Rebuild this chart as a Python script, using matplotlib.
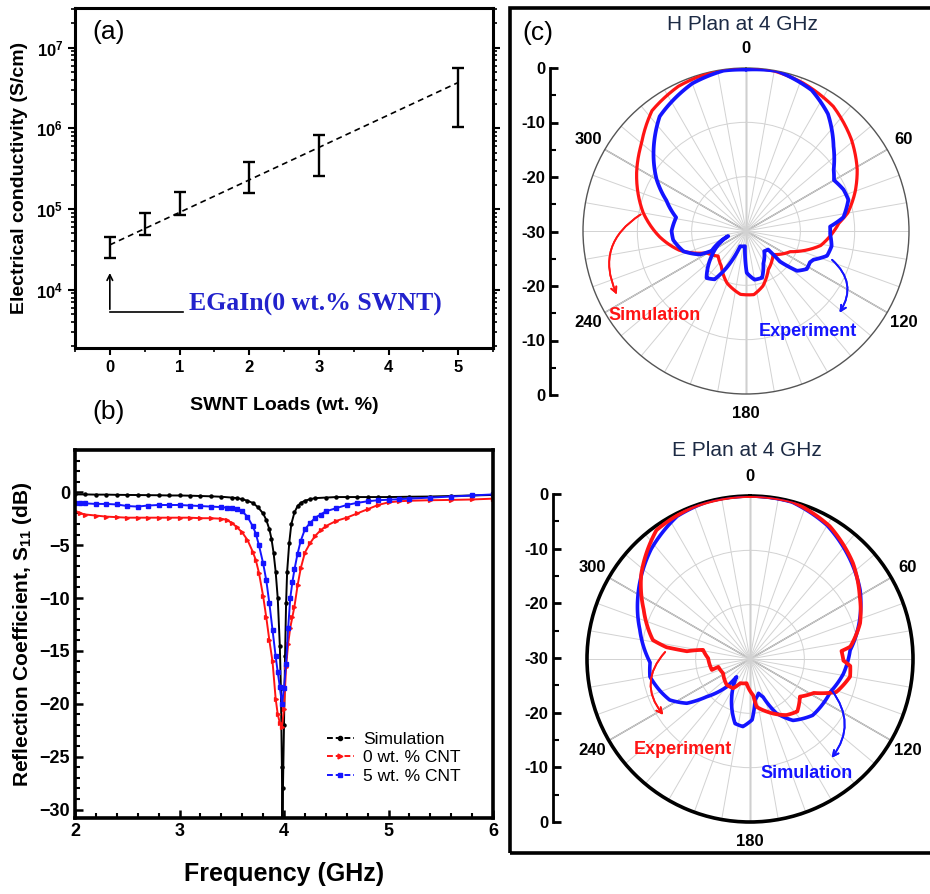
import numpy as np
import matplotlib
matplotlib.use('Agg')
import matplotlib.pyplot as plt
from matplotlib.ticker import MultipleLocator, FixedLocator, FuncFormatter, LogLocator, NullFormatter
from matplotlib.lines import Line2D
from matplotlib.patches import Rectangle

plt.rcParams['font.family'] = ['Liberation Sans', 'DejaVu Sans']
plt.rcParams['mathtext.fontset'] = 'custom'
plt.rcParams['mathtext.rm'] = 'Liberation Sans'
plt.rcParams['mathtext.bf'] = 'Liberation Sans:bold'
plt.rcParams['mathtext.it'] = 'Liberation Sans:italic'

# (a) conductivity vs SWNT load
loads = [0, 0.5, 1, 2, 3, 5]
cond_low = [2.5e4, 4.8e4, 8.4e4, 1.6e5, 2.6e5, 1.05e6]
cond_high = [4.5e4, 9.0e4, 1.65e5, 3.8e5, 8.3e5, 5.6e6]
fit_x = [0, 5]
fit_y = [3.6e4, 3.7e6]

# (b) reflection coefficient
freq_sim = [2.0, 2.1, 2.2, 2.3, 2.4, 2.5, 2.6, 2.7, 2.8, 2.9, 3.0, 3.1, 3.2, 3.3, 3.4, 3.5,
            3.55, 3.6, 3.65, 3.7, 3.75, 3.8, 3.83, 3.86, 3.88, 3.9, 3.92, 3.94, 3.96, 3.97,
            3.98, 3.985, 3.99, 4.0, 4.01, 4.02, 4.03, 4.05, 4.07, 4.1, 4.13, 4.16, 4.2, 4.25,
            4.3, 4.4, 4.5, 4.6, 4.7, 4.8, 4.9, 5.0, 5.2, 5.4, 5.6, 5.8, 6.0]
s11_sim = [-0.2, -0.2, -0.22, -0.22, -0.24, -0.25, -0.26, -0.27, -0.28, -0.3, -0.3, -0.32,
           -0.35, -0.38, -0.42, -0.5, -0.55, -0.65, -0.8, -1.0, -1.4, -2.0, -2.6, -3.5, -4.4,
           -5.7, -7.5, -10.0, -14.5, -18.5, -26.0, -33.0, -28.0, -22.0, -15.5, -10.5, -7.5,
           -4.8, -3.0, -1.9, -1.3, -1.0, -0.8, -0.65, -0.55, -0.5, -0.45, -0.45, -0.45, -0.45,
           -0.45, -0.45, -0.42, -0.4, -0.35, -0.3, -0.25]

freq_meas = [2.0, 2.05, 2.1, 2.2, 2.3, 2.4, 2.5, 2.6, 2.7, 2.8, 2.9, 3.0, 3.1, 3.2, 3.3, 3.4,
             3.45, 3.5, 3.55, 3.6, 3.65, 3.7, 3.73, 3.76, 3.8, 3.83, 3.86, 3.89, 3.92, 3.94,
             3.96, 3.98, 4.0, 4.02, 4.04, 4.06, 4.08, 4.1, 4.13, 4.16, 4.2, 4.25, 4.3, 4.35,
             4.4, 4.5, 4.6, 4.7, 4.8, 4.9, 5.0, 5.1, 5.2, 5.4, 5.6, 5.8, 6.0]
s11_cnt0 = [-1.8, -2.0, -2.1, -2.2, -2.3, -2.35, -2.4, -2.4, -2.4, -2.4, -2.4, -2.4, -2.4,
            -2.45, -2.45, -2.5, -2.6, -2.9, -3.3, -3.8, -4.5, -5.6, -6.4, -7.6, -9.8, -11.8,
            -14.0, -16.0, -19.5, -21.0, -21.8, -22.2, -20.5, -16.5, -14.3, -12.8, -11.8, -10.8,
            -8.8, -7.2, -5.7, -4.8, -4.1, -3.6, -3.2, -2.7, -2.4, -2.0, -1.6, -1.2, -0.95,
            -0.85, -0.8, -0.75, -0.72, -0.68, -0.6]
s11_cnt5 = [-1.0, -1.02, -1.05, -1.1, -1.1, -1.15, -1.3, -1.35, -1.25, -1.2, -1.2, -1.2, -1.25,
            -1.3, -1.35, -1.4, -1.45, -1.5, -1.55, -1.8, -2.3, -3.2, -3.9, -5.0, -6.7, -8.3,
            -10.5, -13.0, -15.5, -17.0, -18.4, -20.0, -18.5, -16.2, -12.8, -10.0, -8.5, -7.3,
            -5.8, -4.6, -3.5, -2.9, -2.4, -2.1, -1.8, -1.5, -1.2, -1.0, -0.85, -0.75, -0.7,
            -0.65, -0.6, -0.5, -0.4, -0.3, -0.2]

# (c) radiation patterns, angle in degrees, gain in dB
h_sim_deg = [0, 10, 21, 35, 49, 61, 70, 80, 85, 91, 101, 115, 131, 150, 163, 173, 185, 200,
             215, 228, 241, 254, 266, 280, 298, 310, 322, 335, 348, 360]
h_sim_db = [0, -0.1, -0.8, -2.0, -4.3, -6.6, -8.6, -11.0, -12.8, -14.0, -16.0, -21.0, -23.4,
            -21.8, -19.4, -18.2, -18.3, -19.8, -22.1, -23.1, -21.7, -17.2, -14.1, -10.8, -7.2,
            -4.9, -1.9, -0.6, -0.1, 0]
h_exp_deg = [0, 11, 25, 35, 46, 55, 60, 67, 73, 82, 87, 92, 100, 107, 113, 116, 122, 128, 132,
             130, 138, 152, 161, 170, 179, 184, 201, 208, 213, 220, 234, 254, 240, 243, 252,
             263, 270, 281, 291, 300, 309, 323, 340, 352, 360]
h_exp_db = [-0.3, 0, -1.4, -3.7, -7.6, -10.3, -11.3, -10.5, -10.3, -11.9, -14.5, -14.5, -14.0,
            -14.4, -16.5, -16.9, -16.8, -18.1, -21.6, -24.7, -25.0, -23.2, -20.9, -20.9, -22.3,
            -27.2, -27.0, -22.3, -19.4, -18.7, -22.2, -26.6, -22.7, -20.5, -17.9, -16.5, -16.3,
            -16.9, -14.3, -11.0, -8.1, -3.6, -1.1, -0.2, -0.3]

e_exp_deg = [0, 15, 31, 47, 60, 72, 83, 85, 91, 94, 100, 111, 118, 127, 138, 147, 162, 172,
             175, 188, 202, 210, 222, 242, 256, 254, 271, 281, 277, 278, 281, 295, 308, 324,
             340, 360]
e_exp_db = [0, 0, -1.5, -4.1, -6.7, -8.7, -11.4, -13.1, -12.8, -11.5, -11.3, -13.0, -16.7,
            -18.5, -17.0, -17.7, -19.8, -21.1, -23.3, -25.5, -25.2, -23.8, -23.6, -24.4, -24.0,
            -22.7, -22.3, -21.2, -18.3, -14.5, -11.8, -8.4, -4.6, -0.7, -0.1, 0]
e_sim_deg = [0, 15, 30, 45, 58, 69, 85, 99, 112, 132, 145, 154, 161, 166, 173, 178, 186, 193,
             205, 211, 217, 220, 229, 235, 243, 250, 260, 268, 285, 299, 318, 333, 345, 360]
e_sim_db = [0, -0.1, -1.6, -4.0, -6.1, -8.3, -11.5, -12.6, -14.0, -14.5, -16.2, -18.9, -22.6,
            -23.5, -22.4, -18.8, -17.5, -17.8, -22.0, -24.0, -25.9, -23.3, -19.4, -15.8, -13.4,
            -12.5, -11.3, -11.6, -9.0, -6.4, -2.8, -0.5, 0, 0]

RED = '#ff1414'
BLUE = '#1414ff'
W, H = 930, 894


def fx(px):
    return px / W


def fy(py):
    return 1 - py / H


fig = plt.figure(figsize=(9.3, 8.94), dpi=100)

# ---------------- (a)
ax_a = fig.add_axes([fx(75), fy(348), fx(493) - fx(75), fy(8) - fy(348)])
ax_a.set_yscale('log')
centre = np.sqrt(np.array(cond_low) * np.array(cond_high))
yerr = [centre - np.array(cond_low), np.array(cond_high) - centre]
ax_a.errorbar(loads, centre, yerr=yerr, fmt='none', ecolor='k', elinewidth=1.7,
              capsize=4.5, capthick=1.7)
ax_a.plot(fit_x, fit_y, color='k', lw=1.2, ls=(0, (3.5, 2.5)))
ax_a.set_xlim(-0.5, 5.5)
ax_a.set_ylim(1.9e3, 3.1e7)
ax_a.yaxis.set_major_locator(FixedLocator([1e4, 1e5, 1e6, 1e7]))
ax_a.yaxis.set_major_formatter(FuncFormatter(lambda v, p: r'$\mathbf{10^{%d}}$' % round(np.log10(v))))
ax_a.yaxis.set_minor_locator(LogLocator(base=10, subs=np.arange(2, 10)))
ax_a.yaxis.set_minor_formatter(NullFormatter())
ax_a.xaxis.set_major_locator(MultipleLocator(1))
ax_a.xaxis.set_minor_locator(MultipleLocator(0.5))
ax_a.tick_params(axis='both', which='major', direction='out', length=5, width=1.5, labelsize=12)
ax_a.tick_params(axis='both', which='minor', direction='out', length=3, width=1.2)
ax_a.tick_params(axis='y', which='both', right=True)
for lab in ax_a.get_xticklabels():
    lab.set_fontweight('bold')
for s in ax_a.spines.values():
    s.set_linewidth(2.2)
ax_a.set_xlabel('SWNT Loads (wt. %)', fontsize=14, fontweight='bold', labelpad=16)
ax_a.set_ylabel('Electrical conductivity (S/cm)', fontsize=14, fontweight='bold', labelpad=6)
ax_a.annotate('', xy=(0, 1.75e4), xytext=(0, 5.3e3),
              arrowprops=dict(arrowstyle='->', color='k', lw=1.2))
ax_a.plot([0, 1.05], [5.3e3, 5.3e3], color='k', lw=1.2)
ax_a.text(1.14, 6.6e3, 'EGaIn(0 wt.% SWNT)', color='#2222cc', fontsize=18.5,
          fontweight='bold', family='Liberation Serif', va='center', ha='left')

# ---------------- (b)
ax_b = fig.add_axes([fx(75), fy(818), fx(493) - fx(75), fy(450) - fy(818)])
ax_b.plot(freq_sim, s11_sim, color='k', lw=1.4, marker='o', ms=2.2)
ax_b.plot(freq_meas, s11_cnt0, color=RED, lw=1.4, marker='>', ms=2.8)
ax_b.plot(freq_meas, s11_cnt5, color=BLUE, lw=1.4, marker='s', ms=2.4)
ax_b.set_xlim(2, 6)
ax_b.set_ylim(-30.8, 4.0)
ax_b.xaxis.set_major_locator(MultipleLocator(1))
ax_b.xaxis.set_minor_locator(MultipleLocator(0.2))
ax_b.yaxis.set_major_locator(MultipleLocator(5))
ax_b.yaxis.set_minor_locator(MultipleLocator(1))
ax_b.tick_params(axis='both', which='major', direction='in', length=6, width=1.8, labelsize=13)
ax_b.tick_params(axis='both', which='minor', direction='in', length=3.5, width=1.5)
for lab in ax_b.get_xticklabels() + ax_b.get_yticklabels():
    lab.set_fontweight('bold')
for s in ax_b.spines.values():
    s.set_linewidth(2.6)
ax_b.set_xlabel('Frequency (GHz)', fontsize=18, fontweight='bold', labelpad=16)
ax_b.set_ylabel(r'Reflection Coefficient, S$_{\mathbf{11}}$ (dB)', fontsize=15,
                fontweight='bold', labelpad=4)
handles = [Line2D([], [], color='k', lw=1.4, ls=(0, (3, 1.5)), marker='o', ms=3),
           Line2D([], [], color=RED, lw=1.4, ls=(0, (3, 1.5)), marker='>', ms=3.5),
           Line2D([], [], color=BLUE, lw=1.4, ls=(0, (3, 1.5)), marker='s', ms=3)]
ax_b.legend(handles, ['Simulation', '0 wt. % CNT', '5 wt. % CNT'], loc='lower right',
            bbox_to_anchor=(0.96, 0.05), frameon=False, fontsize=12.5, handlelength=1.6,
            handletextpad=0.5, labelspacing=0.2)

fig.text(fx(92), fy(32), '(a)', fontsize=19, va='center')
fig.text(fx(92), fy(412), '(b)', fontsize=19, va='center')
fig.text(fx(522), fy(33), '(c)', fontsize=19, va='center')

# ---------------- (c) frame
fig.patches.append(Rectangle((fx(510), fy(853)), 0.6, fy(8) - fy(853), transform=fig.transFigure,
                             fill=False, lw=2.6, ec='k', clip_on=False))


def polar_panel(cx, cy, outer_color, outer_lw, tick_len):
    r = 163
    ax = fig.add_axes([fx(cx - r), fy(cy + r), fx(2 * r), 2 * r / H], projection='polar')
    ax.set_theta_zero_location('N')
    ax.set_theta_direction(-1)
    ax.set_ylim(-30, 0)
    ax.set_rgrids([-20, -10], labels=['', ''])
    angs = np.arange(0, 360, 10)
    ax.set_thetagrids(angs, labels=[str(a) if a % 60 == 0 else '' for a in angs],
                      fontsize=12, fontweight='bold')
    ax.grid(color='#d2d2d2', lw=0.7)
    for a in range(0, 360, 60):
        ax.plot([np.deg2rad(a)] * 2, [-30, 0], color='#7d7d7d', lw=1.0, zorder=1)
    ax.spines['polar'].set_color(outer_color)
    ax.spines['polar'].set_linewidth(outer_lw)
    ax.tick_params(axis='x', direction='in', length=tick_len, width=1.3, colors=outer_color,
                   labelcolor='k', pad=7)
    return ax


def pattern(ax, deg, db, color, lw, z):
    line, = ax.plot(np.deg2rad(deg), db, color=color, lw=lw, zorder=z,
                    solid_joinstyle='round', solid_capstyle='round')
    # let the polar transform draw each segment as a curve, like the grid circles
    line.get_path()._interpolation_steps = 24
    return line


def side_axis(x, top, bottom):
    ax = fig.add_axes([fx(x), fy(bottom), 0.02, fy(top) - fy(bottom)])
    ax.patch.set_alpha(0)
    ax.set_ylim(-30, 30)
    for s in ['top', 'right', 'bottom']:
        ax.spines[s].set_visible(False)
    ax.spines['left'].set_linewidth(2)
    ax.set_xticks([])
    ticks = list(range(-30, 31, 10))
    ax.set_yticks(ticks)
    ax.set_yticklabels([str(abs(t) - 30) for t in ticks], fontsize=12, fontweight='bold')
    ax.yaxis.set_minor_locator(MultipleLocator(5))
    ax.tick_params(axis='y', which='major', direction='in', length=6, width=2)
    ax.tick_params(axis='y', which='minor', direction='in', length=4, width=1.5)
    return ax


def curved_arrow(start, end, color, rad):
    fig.add_artist(plt.annotate('', xy=(fx(end[0]), fy(end[1])),
                                xytext=(fx(start[0]), fy(start[1])),
                                xycoords='figure fraction', textcoords='figure fraction',
                                arrowprops=dict(arrowstyle='->', color=color, lw=1.3,
                                                connectionstyle='arc3,rad=%s' % rad)))


# H plane
ax_h = polar_panel(746, 231, '#555555', 1.0, 4)
pattern(ax_h, h_sim_deg, h_sim_db, RED, 2.3, 3)
pattern(ax_h, h_exp_deg, h_exp_db, BLUE, 2.7, 4)
side_axis(550, 68, 395)
fig.text(fx(742), fy(25), 'H Plan at 4 GHz', fontsize=15, color='#1c2a44', ha='center', va='center')
fig.text(fx(655), fy(315), 'Simulation', color=RED, fontsize=13, fontweight='bold',
         ha='center', va='center')
fig.text(fx(808), fy(332), 'Experiment', color=BLUE, fontsize=13, fontweight='bold',
         ha='center', va='center')
curved_arrow((643, 213), (618, 297), RED, 0.45)
curved_arrow((830, 258), (838, 315), BLUE, -0.45)

# E plane
ax_e = polar_panel(750, 659, 'k', 2.6, 6)
pattern(ax_e, e_sim_deg, e_sim_db, BLUE, 2.6, 3)
pattern(ax_e, e_exp_deg, e_exp_db, RED, 2.7, 4)
side_axis(553, 494, 822)
fig.text(fx(747), fy(451), 'E Plan at 4 GHz', fontsize=15, color='#1c2a44', ha='center', va='center')
fig.text(fx(683), fy(749), 'Experiment', color=RED, fontsize=13, fontweight='bold',
         ha='center', va='center')
fig.text(fx(807), fy(773), 'Simulation', color=BLUE, fontsize=13, fontweight='bold',
         ha='center', va='center')
curved_arrow((667, 650), (665, 717), RED, 0.45)
curved_arrow((830, 688), (830, 760), BLUE, -0.4)

fig.savefig('out.png', dpi=100)
